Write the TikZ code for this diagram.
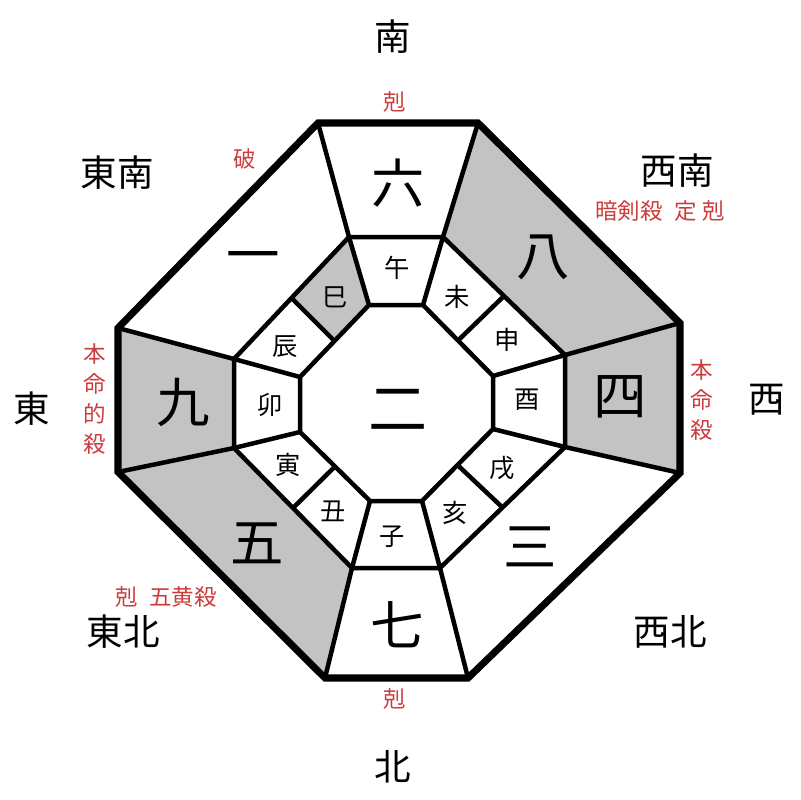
\documentclass[tikz,border=0pt]{standalone}
\usepackage{fontspec}
\setmainfont{Noto Sans CJK JP}
\usetikzlibrary{calc}
\definecolor{cellgray}{RGB}{195,195,195}
\definecolor{warn}{RGB}{205,60,60}
\begin{document}
\begin{tikzpicture}[x=0.025cm,y=-0.025cm,
  wall/.style={line width=5pt,line join=miter},
  rib/.style={line width=3.2pt,line join=miter},
  dir/.style={font=\fontsize{26}{30}\selectfont},
  num/.style={font=\fontsize{38}{40}\selectfont},
  eto/.style={font=\fontsize{18}{20}\selectfont},
  note/.style={text=warn,font=\fontsize{16}{21.5}\selectfont,align=center}]
\useasboundingbox (0,0) rectangle (800,800);
% octagons: outer o, middle m, inner i
\path (318,123) coordinate (o1) (478,123) coordinate (o2) (680,323) coordinate (o3) (680,473) coordinate (o4)
      (468,678) coordinate (o5) (325,678) coordinate (o6) (118,472) coordinate (o7) (118,328) coordinate (o8);
\path (349,237) coordinate (m1) (443,237) coordinate (m2) (565,355) coordinate (m3) (565,447) coordinate (m4)
      (440,568) coordinate (m5) (352,568) coordinate (m6) (234,448) coordinate (m7) (234,359) coordinate (m8);
\path (369,305) coordinate (i1) (423,305) coordinate (i2) (493,376) coordinate (i3) (493,429) coordinate (i4)
      (422,501) coordinate (i5) (370,501) coordinate (i6) (300,432) coordinate (i7) (300,377) coordinate (i8);
% split points of the corner cells
\coordinate (h1) at ($(m8)!.5!(m1)$); \coordinate (k1) at ($(i8)!.5!(i1)$);
\coordinate (h2) at ($(m2)!.5!(m3)$); \coordinate (k2) at ($(i2)!.5!(i3)$);
\coordinate (h3) at ($(m4)!.5!(m5)$); \coordinate (k3) at ($(i4)!.5!(i5)$);
\coordinate (h4) at ($(m6)!.5!(m7)$); \coordinate (k4) at ($(i6)!.5!(i7)$);

\fill[cellgray](o2)--(o3)--(o4)--(m4)--(m3)--(m2)--cycle;
\fill[cellgray](o6)--(o7)--(o8)--(m8)--(m7)--(m6)--cycle;
\fill[cellgray](m1)--(h1)--(k1)--(i1)--cycle;

\draw[rib](m1)--(m2)--(m3)--(m4)--(m5)--(m6)--(m7)--(m8)--cycle;
\draw[rib](i1)--(i2)--(i3)--(i4)--(i5)--(i6)--(i7)--(i8)--cycle;
\foreach \k in {1,...,8}
  \draw[rib](o\k)--(m\k)--(i\k);
\foreach \k in {1,...,4}
  \draw[rib](h\k)--(k\k);
\draw[wall](o1)--(o2)--(o3)--(o4)--(o5)--(o6)--(o7)--(o8)--cycle;

% stars
\node[num] (six) at (398,183){六};
\node[num] (eight) at (543,257){八};
\node[num] (four) at (620,397){四};
\node[num] (three) at (530,547){三};
\node[num] (seven) at (397,625){七};
\node[num] (five) at (257,543){五};
\node[num] (nine) at (183,402){九};
\node[num] (one) at (253,263){一};
\node[num,font=\fontsize{42}{44}\selectfont] (two) at (398,410){二};

% branches
\node[eto] (uma) at (397,268){午};
\node[eto] (hitsuji) at (457,297){未};
\node[eto] (saru) at (507,340){申};
\node[eto] (tori) at (527,400){酉};
\node[eto] (inu) at (502,468){戌};
\node[eto] (i) at (455,513){亥};
\node[eto] (ne) at (392,537){子};
\node[eto] (ushi) at (333,511){丑};
\node[eto] (tora) at (288,465){寅};
\node[eto] (u) at (270,405){卯};
\node[eto] (tatsu) at (285,347){辰};
\node[eto] (mi) at (335,297){巳};

% directions
\node[dir] (s) at (393,37){南};
\node[dir] (se) at (117,173){東南};
\node[dir] (sw) at (677,171){西南};
\node[dir] (e) at (32,409){東};
\node[dir] (w) at (767,400){西};
\node[dir] (ne) at (123,632){東北};
\node[dir] (nw) at (670,632){西北};
\node[dir] (n) at (393,767){北};

% notes
\node[note] (top) at (395,102){剋};
\node[note] (ha) at (245,159){破};
\node[note] (ank) at (660,211){暗剣殺\hspace{8pt}定\hspace{4pt}剋};
\node[note] (hl) at (95,399){本\\命\\的\\殺};
\node[note] (hr) at (702,400){本\\命\\殺};
\node[note] (gok) at (166,597){剋\hspace{8pt}五黄殺};
\node[note] (bot) at (395,699){剋};
\end{tikzpicture}
\end{document}
